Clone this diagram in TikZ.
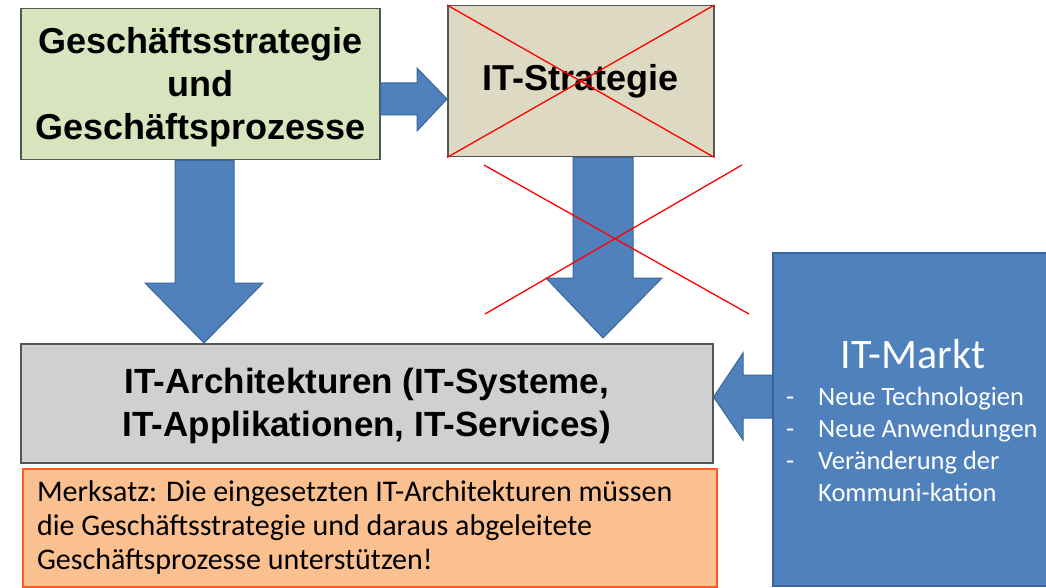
\documentclass[tikz,border=0pt]{standalone}
\usepackage{fontspec}
\setmainfont{Liberation Sans}
\newfontfamily\calibri{Carlito}
\usetikzlibrary{calc}

\definecolor{gsgreen}{HTML}{D7E4BD}
\definecolor{itstan}{HTML}{DDD9C3}
\definecolor{archgray}{HTML}{D0D0D0}
\definecolor{merkorange}{HTML}{FAC090}
\definecolor{merkred}{HTML}{FF5A1F}
\definecolor{marktblue}{HTML}{4F81BD}
\definecolor{marktedge}{HTML}{3A6696}
\definecolor{boxedge}{HTML}{555555}

\begin{document}
\begin{tikzpicture}[x=1pt,y=-1pt,line join=miter,
  box/.style={draw=boxedge,line width=1.5pt,anchor=north west,inner sep=0pt,align=center,
    font=\bfseries\fontsize{36}{43}\selectfont},
  blockarrow/.style={fill=marktblue,draw=marktedge,line width=1pt},
  cross/.style={red,line width=1.3pt},
  marktitem/.style={anchor=base west,inner sep=0pt,text=white,font=\calibri\fontsize{26.5}{32}\selectfont}]
\useasboundingbox (0,0) rectangle (1046,588);
\node[box,fill=gsgreen,minimum width=359,minimum height=151] (gs) at (20,8)
  {\rule{0pt}{32pt}Geschäftsstrategie\\und\\Geschäftsprozesse};
\node[box,fill=itstan,minimum width=266,minimum height=151] (its) at (447,5) {IT-Strategie};
\node[box,fill=archgray,minimum width=692,minimum height=119,font=\bfseries\fontsize{35}{43}\selectfont] (arch) at (20,343)
  {\rule{0pt}{30pt}IT-Architekturen (IT-Systeme,\\IT-Applikationen, IT-Services)};
\node[draw=merkred,line width=2pt,fill=merkorange,anchor=north west,text width=666,inner xsep=14,inner ysep=12,
  align=flush left,font=\calibri\fontsize{30}{34}\selectfont] (merk) at (22,468)
  {Merksatz: Die eingesetzten IT-Architekturen müssen\\die Geschäftsstrategie und daraus abgeleitete\\Geschäftsprozesse unterstützen!};
\node[draw=marktedge,line width=1.5pt,fill=marktblue,anchor=north west,minimum width=290,minimum height=333,inner sep=0pt] (markt) at (772,252) {};
\node[anchor=base,inner sep=0pt,text=white,font=\calibri\fontsize{42}{50}\selectfont] (mtitle) at (913,368) {IT-Markt};
\node[marktitem] (m1) at (786,405) {\makebox[32pt][l]{-}Neue Technologien};
\node[marktitem] (m2) at (786,437) {\makebox[32pt][l]{-}Neue Anwendungen};
\node[marktitem] (m3) at (786,469) {\makebox[32pt][l]{-}Veränderung der};
\node[marktitem] (m4) at (818,501) {Kommuni-kation};

\draw[blockarrow] (gs.east |- 0,83) -- (417,83) -- (417,68) -- (its.west |- 0,99) -- (417,131) -- (417,115)
  -- (gs.east |- 0,115) -- cycle;
\draw[blockarrow] (175,0 |- gs.south) -- (234,0 |- gs.south) -- (234,283) -- (263,283) -- (204,0 |- arch.north)
  -- (145,283) -- (175,283) -- cycle;
\draw[blockarrow] (573,0 |- its.south) -- (633,0 |- its.south) -- (633,278) -- (662,278)
  -- ($(603,0 |- arch.north)+(0,-5)$) -- (546,278) -- (573,278) -- cycle;
\draw[blockarrow] (markt.west |- 0,375) -- (743,375) -- (743,353) -- (arch.east |- 0,397) -- (743,440) -- (743,418)
  -- (markt.west |- 0,418) -- cycle;

\draw[cross] (its.north west) -- (its.south east) (its.north east) -- (its.south west);
\coordinate (x1) at (484,165);
\coordinate (x2) at (749,314);
\coordinate (x3) at (742,165);
\coordinate (x4) at (485,314);
\draw[cross] (x1) -- (x2) (x3) -- (x4);
\end{tikzpicture}
\end{document}
